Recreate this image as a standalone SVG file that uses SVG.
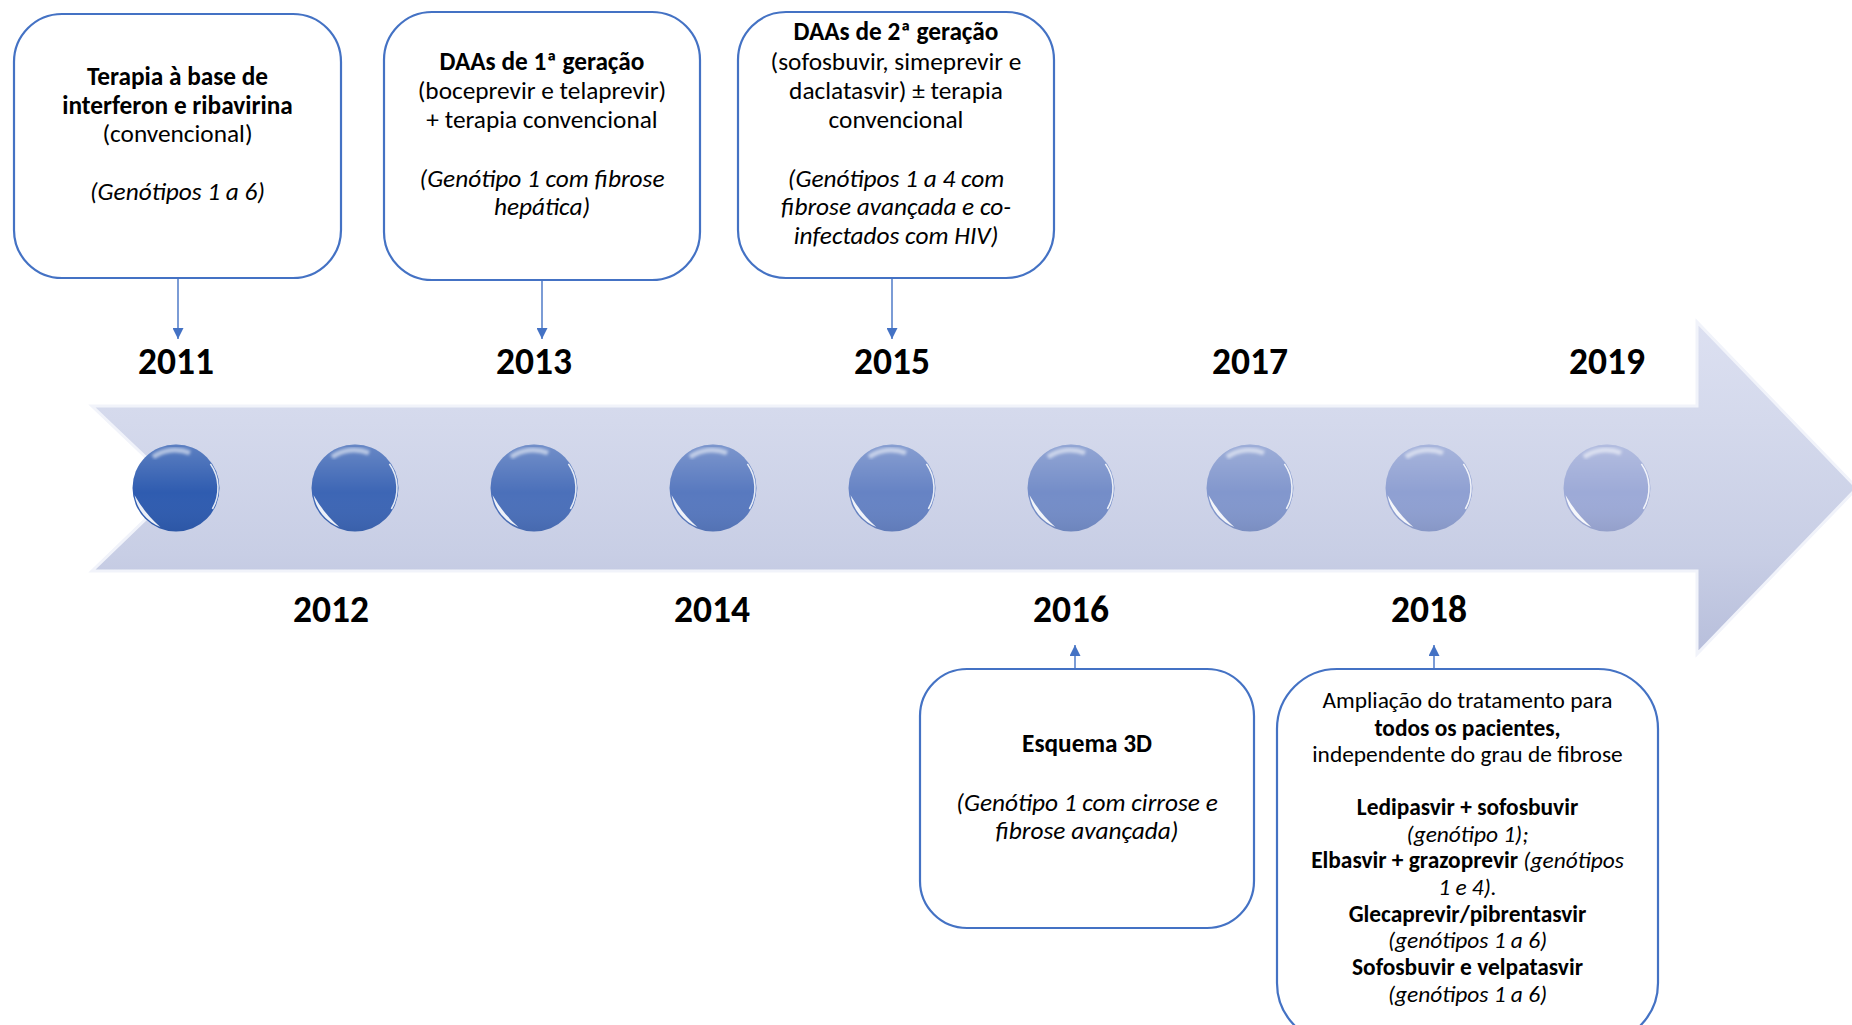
<svg xmlns="http://www.w3.org/2000/svg" width="1852" height="1025" viewBox="0 0 1852 1025">
  <defs>
    <style>
      .box { fill: #FFFFFF; stroke: #4472C4; stroke-width: 2.2; }
      .txt { font-family: Carlito, Calibri, "Liberation Sans", Arial, sans-serif; font-size: 25.3px; fill: #000000; text-anchor: middle; }
      .small { font-size: 23.4px; }
      .b { font-weight: bold; }
      .i { font-style: italic; }
      .year { font-family: Carlito, Calibri, "Liberation Sans", Arial, sans-serif; font-size: 37.5px; font-weight: bold; fill: #000000; text-anchor: middle; }
      .link { stroke: #4472C4; stroke-width: 1.4; fill: none; marker-end: url(#tip); }
      .gloss-rim { fill: none; stroke: #FFFFFF; stroke-width: 1.6; opacity: 0.85; }
    </style>
    <marker id="tip" viewBox="0 0 10 10" refX="10" refY="5" markerUnits="userSpaceOnUse" markerWidth="11" markerHeight="11" orient="auto">
      <path d="M0,0 L10,5 L0,10 Z" fill="#4472C4"/>
    </marker>
    <linearGradient id="bandFill" gradientUnits="userSpaceOnUse" x1="0" y1="322" x2="0" y2="654">
      <stop offset="0" stop-color="#DCE0F1"/>
      <stop offset="0.3" stop-color="#D4D9EC"/>
      <stop offset="0.7" stop-color="#C8CEE5"/>
      <stop offset="1" stop-color="#B7BEDB"/>
    </linearGradient>
    <linearGradient id="ballShade" x1="0" y1="0" x2="0" y2="1">
      <stop offset="0" stop-color="#FFFFFF" stop-opacity="0.22"/>
      <stop offset="0.55" stop-color="#FFFFFF" stop-opacity="0"/>
      <stop offset="1" stop-color="#000000" stop-opacity="0.06"/>
    </linearGradient>
    <filter id="soft" x="-20%" y="-20%" width="140%" height="140%">
      <feGaussianBlur stdDeviation="0.7"/>
    </filter>
    <filter id="glare" x="-30%" y="-30%" width="160%" height="160%">
      <feGaussianBlur stdDeviation="1.6"/>
    </filter>
    <!-- glossy highlights shared by every timeline bead, drawn around (0,0) -->
    <g id="gloss">
      <circle r="43.5" fill="url(#ballShade)"/>
      <path d="M -23,-31 A 38 38 0 0 1 14,-35" fill="none" stroke="#FFFFFF" stroke-width="5" stroke-opacity="0.55" filter="url(#glare)"/>
      <path d="M -41.4,7.3 A 42 42 0 0 0 -15.7,39 A 120 120 0 0 1 -41.4,7.3 Z" fill="#FFFFFF" fill-opacity="0.9" filter="url(#soft)"/>
      <path class="gloss-rim" d="M 34.4,-24.1 A 42 42 0 0 1 36.4,21"/>
    </g>
  </defs>

  <rect width="1852" height="1025" fill="#FFFFFF"/>

  <!-- timeline arrow -->
  <g id="timeline">
    <path d="M 92,406 L 1697,406 L 1697,322 L 1857,488 L 1697,654 L 1697,571 L 92,571 L 178,488 Z" fill="url(#bandFill)" stroke="#F1F3FA" stroke-width="3" stroke-linejoin="miter"/>
  </g>

  <!-- year beads -->
  <g id="beads">
    <g id="bead-2011" transform="translate(176,488)"><circle r="43.5" fill="#2F5CB0"/><use href="#gloss"/></g>
    <g id="bead-2012" transform="translate(355,488)"><circle r="43.5" fill="#3D66B5"/><use href="#gloss"/></g>
    <g id="bead-2013" transform="translate(534,488)"><circle r="43.5" fill="#4B70BA"/><use href="#gloss"/></g>
    <g id="bead-2014" transform="translate(713,488)"><circle r="43.5" fill="#5879BF"/><use href="#gloss"/></g>
    <g id="bead-2015" transform="translate(892,488)"><circle r="43.5" fill="#6683C4"/><use href="#gloss"/></g>
    <g id="bead-2016" transform="translate(1071,488)"><circle r="43.5" fill="#748DC8"/><use href="#gloss"/></g>
    <g id="bead-2017" transform="translate(1250,488)"><circle r="43.5" fill="#8297CD"/><use href="#gloss"/></g>
    <g id="bead-2018" transform="translate(1429,488)"><circle r="43.5" fill="#8FA0D2"/><use href="#gloss"/></g>
    <g id="bead-2019" transform="translate(1607,488)"><circle r="43.5" fill="#9DAAD7"/><use href="#gloss"/></g>
  </g>

  <!-- year labels -->
  <g id="years">
    <text class="year" x="176" y="374">2011</text>
    <text class="year" x="534" y="374">2013</text>
    <text class="year" x="892" y="374">2015</text>
    <text class="year" x="1250" y="374">2017</text>
    <text class="year" x="1607" y="374">2019</text>
    <text class="year" x="331" y="622">2012</text>
    <text class="year" x="712" y="622">2014</text>
    <text class="year" x="1071" y="622">2016</text>
    <text class="year" x="1429" y="622">2018</text>
  </g>

  <!-- connectors -->
  <g id="connectors">
    <line class="link" x1="178" y1="278" x2="178" y2="339"/>
    <line class="link" x1="542" y1="280" x2="542" y2="339"/>
    <line class="link" x1="892" y1="278" x2="892" y2="339"/>
    <line class="link" x1="1075" y1="669" x2="1075" y2="645"/>
    <line class="link" x1="1434" y1="669" x2="1434" y2="645"/>
  </g>

  <!-- 2011 -->
  <g id="box-2011">
    <rect class="box" x="14" y="14" width="327" height="264" rx="48" ry="48"/>
    <text class="txt b" x="177.5" y="85">Terapia à base de</text>
    <text class="txt b" x="177.5" y="114">interferon e ribavirina</text>
    <text class="txt" x="177.5" y="142">(convencional)</text>
    <text class="txt i" x="177.5" y="200">(Genótipos 1 a 6)</text>
  </g>

  <!-- 2013 -->
  <g id="box-2013">
    <rect class="box" x="384" y="12" width="316" height="268" rx="48" ry="48"/>
    <text class="txt b" x="542" y="70">DAAs de 1ª geração</text>
    <text class="txt" x="542" y="99">(boceprevir e telaprevir)</text>
    <text class="txt" x="542" y="128">+ terapia convencional</text>
    <text class="txt i" x="542" y="187">(Genótipo 1 com fibrose</text>
    <text class="txt i" x="542" y="215">hepática)</text>
  </g>

  <!-- 2015 -->
  <g id="box-2015">
    <rect class="box" x="738" y="12" width="316" height="266" rx="48" ry="48"/>
    <text class="txt b" x="896" y="40">DAAs de 2ª geração</text>
    <text class="txt" x="896" y="70">(sofosbuvir, simeprevir e</text>
    <text class="txt" x="896" y="99">daclatasvir) ± terapia</text>
    <text class="txt" x="896" y="128">convencional</text>
    <text class="txt i" x="896" y="187">(Genótipos 1 a 4 com</text>
    <text class="txt i" x="896" y="215">fibrose avançada e co-</text>
    <text class="txt i" x="896" y="244">infectados com HIV)</text>
  </g>

  <!-- 2016 -->
  <g id="box-2016">
    <rect class="box" x="920" y="669" width="334" height="259" rx="47" ry="47"/>
    <text class="txt b" x="1087" y="752">Esquema 3D</text>
    <text class="txt i" x="1087" y="811">(Genótipo 1 com cirrose e</text>
    <text class="txt i" x="1087" y="839">fibrose avançada)</text>
  </g>

  <!-- 2018 -->
  <g id="box-2018">
    <rect class="box" x="1277" y="669" width="381" height="374" rx="60" ry="60"/>
    <text class="txt small" x="1467.5" y="708">Ampliação do tratamento para</text>
    <text class="txt small b" x="1467.5" y="736">todos os pacientes,</text>
    <text class="txt small" x="1467.5" y="762">independente do grau de fibrose</text>
    <text class="txt small b" x="1467.5" y="815">Ledipasvir + sofosbuvir</text>
    <text class="txt small i" x="1467.5" y="842">(genótipo 1);</text>
    <text class="txt small" x="1467.5" y="868"><tspan class="b">Elbasvir + grazoprevir</tspan> <tspan class="i">(genótipos</tspan></text>
    <text class="txt small i" x="1467.5" y="895">1 e 4).</text>
    <text class="txt small b" x="1467.5" y="922">Glecaprevir/pibrentasvir</text>
    <text class="txt small i" x="1467.5" y="948">(genótipos 1 a 6)</text>
    <text class="txt small b" x="1467.5" y="975">Sofosbuvir e velpatasvir</text>
    <text class="txt small i" x="1467.5" y="1002">(genótipos 1 a 6)</text>
  </g>
</svg>
